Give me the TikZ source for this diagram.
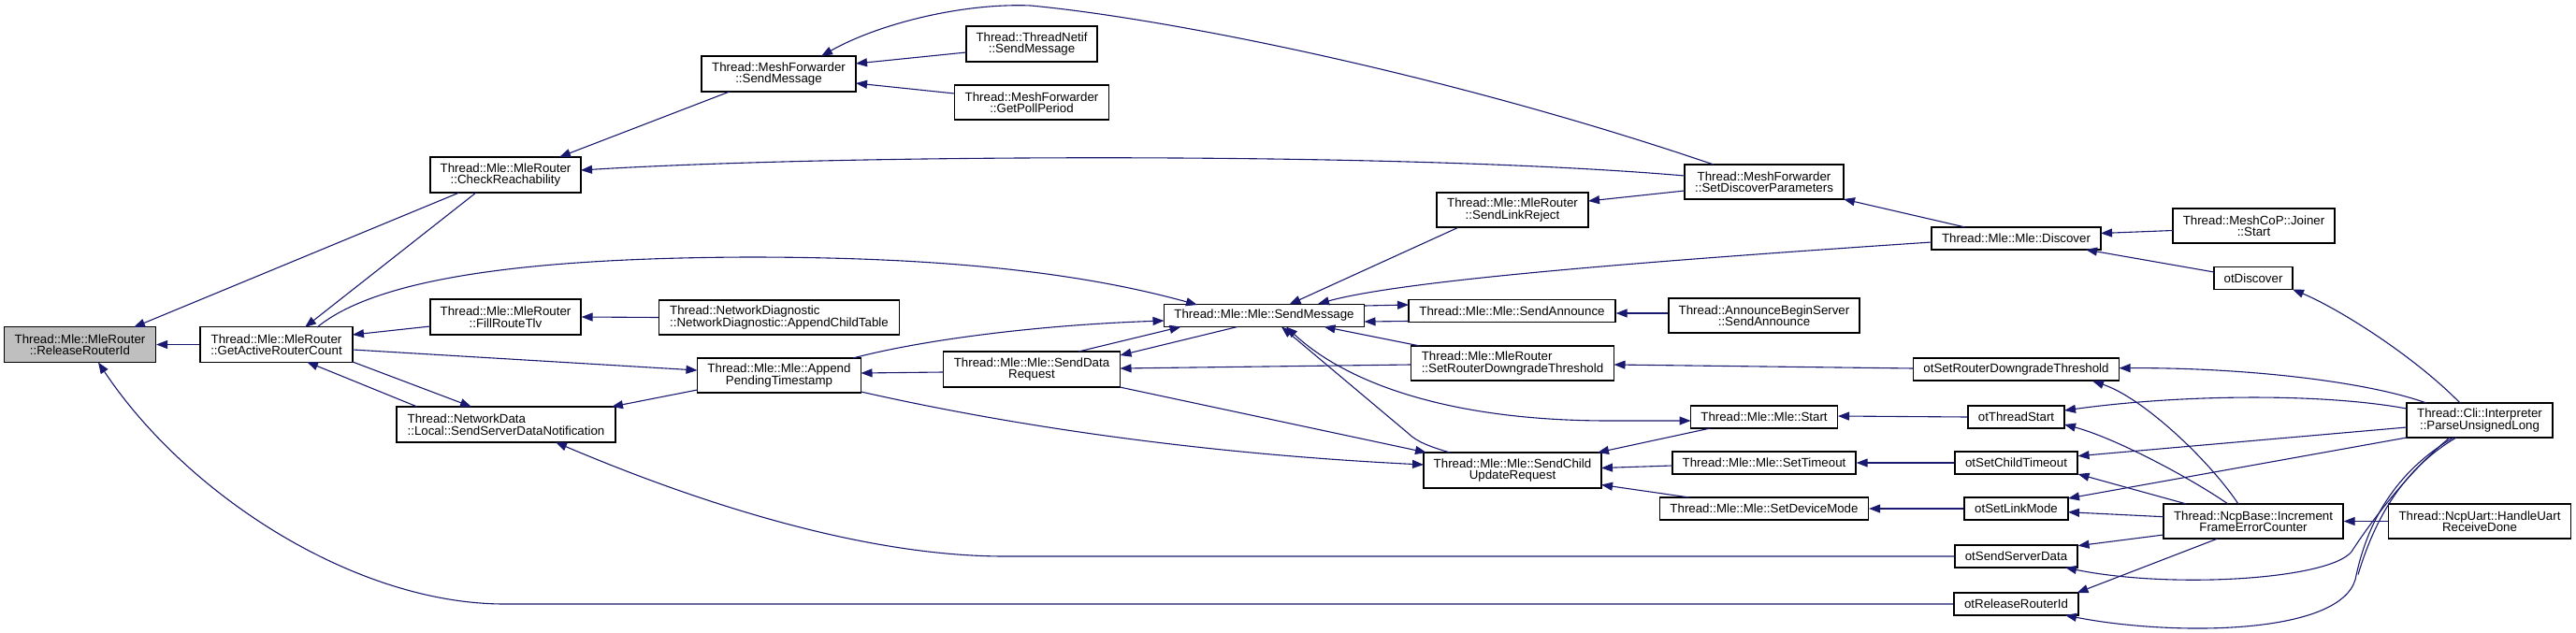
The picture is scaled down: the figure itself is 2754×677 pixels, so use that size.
\documentclass[tikz,border=0pt]{standalone}
\usepackage{fontspec}
\setmainfont{Liberation Sans}
\usetikzlibrary{arrows.meta,calc}
\definecolor{edgeblue}{HTML}{191970}
\definecolor{rootgray}{HTML}{BFBFBF}
\begin{document}
\begin{tikzpicture}[x=1pt,y=-1pt,
  fn/.style={draw=black,line width=1.2pt,fill=white,inner sep=0pt,align=center,
    font=\fontsize{13.3}{12.5}\selectfont},
  fnl/.style={fn,align=left},
  root/.style={fn,fill=rootgray},
  cedge/.style={draw=edgeblue,line width=1.1pt,arrows={-Triangle[length=12pt,width=9pt]}},
  bedge/.style={draw=edgeblue,line width=1.1pt,arrows={Triangle[length=12pt,width=9pt]-Triangle[length=12pt,width=9pt]}},
  pedge/.style={draw=edgeblue,line width=1.1pt}]
\useasboundingbox (0,0) rectangle (2754,677);
% nodes
\node[root,minimum width=162pt,minimum height=38pt] (rel) at (85.5,368.5) {Thread::Mle::MleRouter\\::ReleaseRouterId};
\node[fn,minimum width=163pt,minimum height=38pt] (gar) at (295.5,368.5) {Thread::Mle::MleRouter\\::GetActiveRouterCount};
\node[fn,minimum width=161pt,minimum height=38pt] (chk) at (540.5,187) {Thread::Mle::MleRouter\\::CheckReachability};
\node[fn,minimum width=161pt,minimum height=38pt] (frt) at (540.5,339) {Thread::Mle::MleRouter\\::FillRouteTlv};
\node[fnl,minimum width=234pt,minimum height=38pt] (sdn) at (541,454) {Thread::NetworkData\\::Local::SendServerDataNotification};
\node[fn,minimum width=165pt,minimum height=38pt] (mfs) at (832.5,79) {Thread::MeshForwarder\\::SendMessage};
\node[fn,minimum width=140pt,minimum height=38pt] (tns) at (1103,47) {Thread::ThreadNetif\\::SendMessage};
\node[fn,minimum width=165pt,minimum height=37pt] (gpp) at (1103,109.5) {Thread::MeshForwarder\\::GetPollPeriod};
\node[fnl,minimum width=257pt,minimum height=37pt] (act) at (833,339.5) {Thread::NetworkDiagnostic\\::NetworkDiagnostic::AppendChildTable};
\node[fn,minimum width=175pt,minimum height=37pt] (apt) at (833,401.5) {Thread::Mle::Mle::Append\\PendingTimestamp};
\node[fn,minimum width=189pt,minimum height=38pt] (sdr) at (1103,395) {Thread::Mle::Mle::SendData\\Request};
\node[fn,minimum width=214pt,minimum height=24pt] (msg) at (1351.5,337.5) {Thread::Mle::Mle::SendMessage};
\node[fn,minimum width=162pt,minimum height=37pt] (slr) at (1617,224.5) {Thread::Mle::MleRouter\\::SendLinkReject};
\node[fn,minimum width=221pt,minimum height=24pt] (san) at (1616.5,332.5) {Thread::Mle::Mle::SendAnnounce};
\node[fnl,minimum width=217pt,minimum height=37pt] (srdt) at (1617,388.5) {Thread::Mle::MleRouter\\::SetRouterDowngradeThreshold};
\node[fn,minimum width=190pt,minimum height=38pt] (scur) at (1617,503) {Thread::Mle::Mle::SendChild\\UpdateRequest};
\node[fn,minimum width=170pt,minimum height=37pt] (sdp) at (1886,194.5) {Thread::MeshForwarder\\::SetDiscoverParameters};
\node[fn,minimum width=204pt,minimum height=37pt] (abs) at (1886,337.5) {Thread::AnnounceBeginServer\\::SendAnnounce};
\node[fn,minimum width=157pt,minimum height=24pt] (mstart) at (1886,446) {Thread::Mle::Mle::Start};
\node[fn,minimum width=196pt,minimum height=24pt] (sto) at (1886,495) {Thread::Mle::Mle::SetTimeout};
\node[fn,minimum width=223pt,minimum height=24pt] (sdm) at (1886,544) {Thread::Mle::Mle::SetDeviceMode};
\node[fn,minimum width=181pt,minimum height=24pt] (disc) at (2155.5,255) {Thread::Mle::Mle::Discover};
\node[fn,minimum width=220pt,minimum height=24pt] (otsrdt) at (2155.5,395) {otSetRouterDowngradeThreshold};
\node[fn,minimum width=103pt,minimum height=24pt] (otts) at (2155.5,446) {otThreadStart};
\node[fn,minimum width=131pt,minimum height=24pt] (otsct) at (2155.5,495) {otSetChildTimeout};
\node[fn,minimum width=111pt,minimum height=24pt] (otslm) at (2155.5,544) {otSetLinkMode};
\node[fn,minimum width=131pt,minimum height=24pt] (otssd) at (2155.5,595) {otSendServerData};
\node[fn,minimum width=133pt,minimum height=24pt] (otrri) at (2155.5,646) {otReleaseRouterId};
\node[fn,minimum width=173pt,minimum height=37pt] (joiner) at (2409.5,241.5) {Thread::MeshCoP::Joiner\\::Start};
\node[fn,minimum width=84pt,minimum height=24pt] (otdisc) at (2409,297.5) {otDiscover};
\node[fn,minimum width=192pt,minimum height=37pt] (ifec) at (2409,557.5) {Thread::NcpBase::Increment\\FrameErrorCounter};
\node[fn,minimum width=156pt,minimum height=37pt] (pul) at (2651,449.5) {Thread::Cli::Interpreter\\::ParseUnsignedLong};
\node[fn,minimum width=195pt,minimum height=37pt] (hurd) at (2651,557.5) {Thread::NcpUart::HandleUart\\ReceiveDone};
% edges
\draw[cedge] ($(chk)+(-49.5,19)$) -- ($(rel)+(57.5,-18.5)$);
\draw[cedge] ($(chk)+(-31.5,19)$) -- ($(gar)+(30.5,-18.5)$);
\draw[cedge] (gar.west) -- (rel.east);
\draw[cedge] ($(frt)+(-80.5,10)$) -- ($(gar)+(81.5,-10.5)$);
\draw[cedge] ($(gar)+(81.5,5.5)$) -- ($(apt)+(-87.5,-5.5)$);
\draw[cedge] ($(gar)+(81.5,18.5)$) -- ($(sdn)+(-37,-19)$);
\draw[cedge] ($(sdn)+(-95,-19)$) -- ($(gar)+(32.5,18.5)$);
\draw[cedge] ($(mfs)+(-52.5,19)$) -- ($(chk)+(57.5,-19)$);
\draw[cedge] ($(sdp)+(-85,-6.5)$) .. controls ($(sdp)+(-386,-32.5)$) and ($(chk)+(359.5,-22)$) .. ($(chk)+(80.5,-5)$);
\draw[cedge] ($(sdp)+(-54,-18.5)$) .. controls ($(sdp)+(-336,-114.5)$) and ($(tns)+(147,-27)$) .. ($(tns)+(-1,-41)$)
  .. controls ($(tns)+(-73,-44)$) and ($(mfs)+(107.5,-54)$) .. ($(mfs)+(45.5,-19)$);
\draw[cedge] ($(tns)+(-70,9)$) -- ($(mfs)+(82.5,-11)$);
\draw[cedge] ($(gpp)+(-82.5,-9.5)$) -- ($(mfs)+(82.5,10)$);
\draw[cedge] (act.west) -- (frt.east);
\draw[cedge] ($(gar)+(43.5,-18.5)$) .. controls ($(gar)+(104.5,-68.5)$) and ($(gar)+(254.5,-92.5)$) .. ($(act)+(-33,-64.5)$)
  .. controls ($(msg)+(-351.5,-62.5)$) and ($(msg)+(-201.5,-47.5)$) .. ($(msg)+(-71.5,-11.5)$);
\draw[cedge] ($(apt)+(79,-18.5)$) .. controls ($(apt)+(147,-36.5)$) and ($(msg)+(-251.5,10.5)$) .. ($(msg)+(-107,5.5)$);
\draw[cedge] ($(sdr)+(-94.5,3)$) -- ($(apt)+(87.5,-2.5)$);
\draw[cedge] ($(sdr)+(50,-19)$) -- ($(msg)+(-89,12)$);
\draw[cedge] ($(msg)+(-28.5,12)$) -- ($(sdr)+(94.5,-15)$);
\draw[cedge] ($(srdt)+(-108.5,1.5)$) -- ($(sdr)+(94.5,-1)$);
\draw[cedge] ($(apt)+(87.5,17.5)$) .. controls ($(apt)+(247,53.5)$) and ($(scur)+(-337,-18)$) .. ($(scur)+(-95,-6)$);
\draw[cedge] ($(sdr)+(94,19)$) -- ($(scur)+(-92,-19)$);
\draw[cedge] (otssd.west) -- ($(otssd.west)+(-1015,0)$) .. controls ($(otssd.west)+(-1170,0)$) and ($(sdn)+(199,81)$) .. ($(sdn)+(53,19)$);
\draw[cedge] (otrri.west) -- ($(otrri.west)+(-1549,0)$) .. controls ($(rel)+(294.5,277.5)$) and ($(rel)+(114.5,161.5)$) .. ($(rel)+(19.5,19)$);
\draw[cedge] ($(slr)+(-58.5,19)$) -- ($(msg)+(27,-12)$);
\draw[cedge] ($(disc)+(-90.5,4)$) .. controls ($(disc)+(-405,25)$) and ($(msg)+(148.5,-37.5)$) .. ($(msg)+(57.5,-12.5)$);
\draw[cedge] ($(msg)+(107,-10.5)$) -- ($(san)+(-110.5,-6.5)$);
\draw[cedge] ($(san)+(-110.5,11)$) -- ($(msg)+(107,6.5)$);
\draw[cedge] ($(abs.west)+(0,-2.5)$) -- ($(san.east)+(0,2.5)$);
\draw[cedge] ($(srdt)+(-99,-18.5)$) -- ($(msg)+(64,12)$);
\draw[bedge] ($(msg)+(23.5,12)$) .. controls ($(msg)+(88.5,72.5)$) and ($(mstart)+(-336,4)$) .. ($(mstart)+(-166,4)$) -- ($(mstart)+(-78.5,4)$);
\draw[cedge] ($(scur)+(-67,-19)$) .. controls ($(scur)+(-87,-25)$) and ($(scur)+(-102,-30)$) .. ($(scur)+(-112,-40)$) -- ($(msg)+(18.5,12)$);
\draw[cedge] ($(mstart)+(-57.5,12)$) -- ($(scur)+(91,-19)$);
\draw[cedge] ($(sto)+(-98,3)$) -- ($(scur)+(95,-2.5)$);
\draw[cedge] ($(sdm)+(-80,-12)$) -- ($(scur)+(95,15.5)$);
\draw[cedge] ($(sdp)+(-85,9.5)$) -- ($(slr)+(81,-9.5)$);
\draw[cedge] ($(disc)+(-54.5,-12)$) -- ($(sdp)+(85,18.5)$);
\draw[cedge] ($(joiner)+(-86.5,5)$) -- ($(disc)+(90.5,-5.5)$);
\draw[cedge] ($(otdisc)+(-42,-6.5)$) -- ($(disc)+(74.5,12)$);
\draw[cedge] ($(pul)+(-21,-18.5)$) .. controls ($(pul)+(-71,-69.5)$) and ($(otdisc)+(91,32.5)$) .. ($(otdisc)+(42,12)$);
\draw[cedge] ($(otsrdt)+(-110,-1)$) -- ($(srdt)+(108.5,1.5)$);
\draw[cedge] (otts.west) -- ($(mstart)+(79,-1)$);
\draw[cedge] (otsct.west) -- (sto.east);
\draw[cedge] (otslm.west) -- (sdm.east);
\draw[cedge] ($(pul)+(-57,-18.5)$) .. controls ($(pul)+(-121,-41.5)$) and ($(otsrdt)+(244.5,-2)$) .. ($(otsrdt)+(110,-1.3)$);
\draw[cedge] ($(ifec)+(-16,-18.5)$) .. controls ($(ifec)+(-49,-67.5)$) and ($(otsrdt)+(134.5,30)$) .. ($(otsrdt)+(81.5,12.5)$);
\draw[cedge] ($(pul)+(-78,-12.5)$) .. controls ($(pul)+(-171,-29.5)$) and ($(otts)+(174.5,-24)$) .. ($(otts)+(51.5,-7)$);
\draw[cedge] ($(ifec)+(-27,-18.5)$) .. controls ($(ifec)+(-69,-47.5)$) and ($(otts)+(104.5,22)$) .. ($(otts)+(51.5,8)$);
\draw[cedge] ($(pul)+(-78,7.5)$) -- ($(otsct)+(66,-7.3)$);
\draw[cedge] ($(ifec)+(-71.5,-18.5)$) -- ($(otsct)+(66,12)$);
\draw[cedge] ($(pul)+(-78,18.5)$) -- ($(otslm)+(55.5,-11)$);
\draw[cedge] ($(ifec)+(-96,-4.8)$) -- ($(otslm)+(55.5,3.7)$);
\draw[cedge] ($(ifec)+(-96,14.5)$) -- ($(otssd)+(66,-11.3)$);
\draw[cedge] ($(pul)+(-32,18.5)$) .. controls ($(pul)+(-71,50.5)$) and ($(pul)+(-111,100.5)$) .. ($(pul)+(-137,140.5)$)
  .. controls ($(otssd)+(334.5,25)$) and ($(otssd)+(164.5,35)$) .. ($(otssd)+(52.5,12)$);
\draw[cedge] ($(ifec)+(-38,18.5)$) -- ($(otrri)+(65,-12)$);
\draw[cedge] ($(pul)+(-28,18.5)$) .. controls ($(pul)+(-91,55.5)$) and ($(pul)+(-121,110.5)$) .. ($(pul)+(-133,170.5)$)
  .. controls ($(otrri)+(344.5,34)$) and ($(otrri)+(164.5,34)$) .. ($(otrri)+(52.5,12)$);
\draw[pedge] ($(pul)+(-25,18.5)$) .. controls ($(pul)+(-82,52)$) and ($(pul)+(-112,105)$) .. ($(pul)+(-130,165)$);
\draw[cedge] (hurd.west) -- (ifec.east);
\draw[cedge] ($(apt)+(-87.5,15.5)$) -- ($(sdn)+(113,-19)$);
\end{tikzpicture}
\end{document}
